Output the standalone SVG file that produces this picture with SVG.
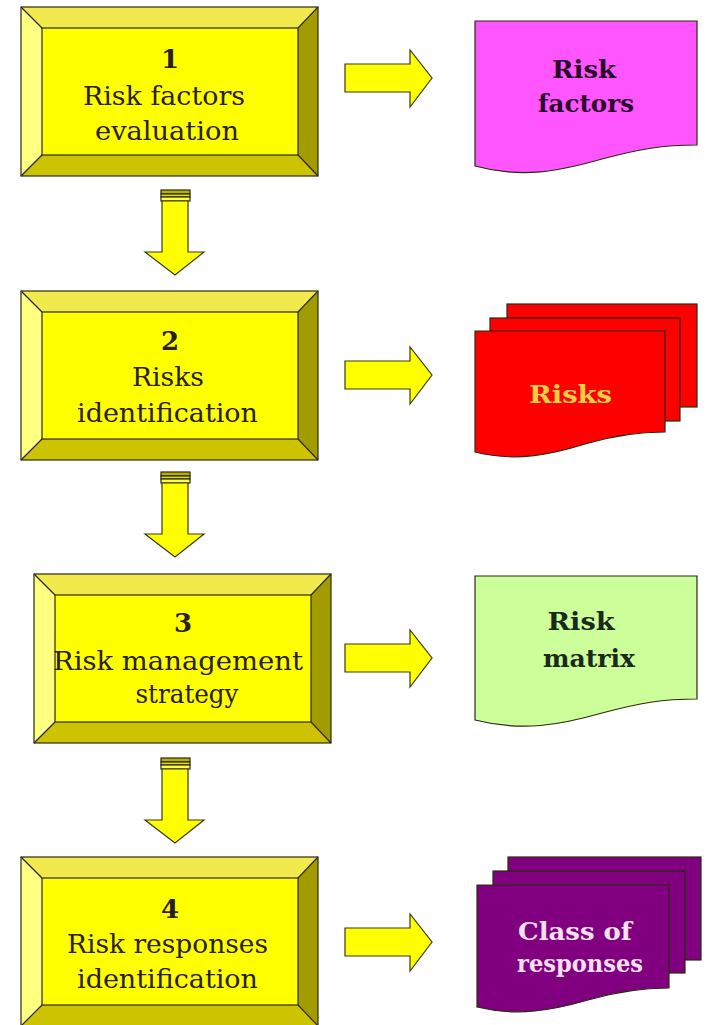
<svg xmlns="http://www.w3.org/2000/svg" width="706" height="1025" viewBox="0 0 706 1025">
  <style>
    .edge { stroke: #2a2a10; stroke-width: 1.2; stroke-linejoin: miter; }
    .face { fill: #FFFF00; }
    .bev-t { fill: #F2EA4C; }
    .bev-l { fill: #FFFF80; }
    .bev-r { fill: #A39C00; }
    .bev-b { fill: #CEC300; }
    .lbl { font-family: "DejaVu Serif", "Liberation Serif", serif; font-size: 25.5px; fill: #2a2010; text-anchor: middle; }
    .num { font-weight: bold; font-size: 26px; }
    .doc { font-family: "DejaVu Serif", "Liberation Serif", serif; font-size: 23.5px; font-weight: bold; text-anchor: middle; }
    .arrow { fill: #FFFF00; stroke: #3a3a10; stroke-width: 1.2; stroke-linejoin: miter; }
  </style>
  <defs>
    <!-- bevelled step box, 297 x 169 outer, 21 px bevel -->
    <g id="bevelBox">
      <polygon class="bev-t" points="0,0 297,0 277,21 21,21"/>
      <polygon class="bev-l" points="0,0 21,21 21,148 0,169"/>
      <polygon class="bev-r" points="297,0 297,169 277,148 277,21"/>
      <polygon class="bev-b" points="0,169 21,148 277,148 297,169"/>
      <rect class="face edge" x="21" y="21" width="256" height="127"/>
      <rect x="0" y="0" width="297" height="169" fill="none" class="edge"/>
      <line class="edge" x1="0" y1="0" x2="21" y2="21"/>
      <line class="edge" x1="297" y1="0" x2="277" y2="21"/>
      <line class="edge" x1="0" y1="169" x2="21" y2="148"/>
      <line class="edge" x1="297" y1="169" x2="277" y2="148"/>
    </g>
    <!-- striped-tail down arrow -->
    <g id="downArrow">
      <rect x="161" y="0" width="29" height="4" fill="#B8B000" class="edge"/>
      <rect x="161" y="4" width="29" height="3" fill="#E2DA30" class="edge"/>
      <rect x="161" y="7" width="29" height="4" fill="#FFFF40" class="edge"/>
      <polygon class="arrow" points="162,11 188,11 188,62 204,62 175,85 145,62 162,62"/>
    </g>
    <!-- block arrow pointing right -->
    <polygon id="rightArrow" class="arrow" points="0,14 65,14 65,0 87,28 65,57 65,42 0,42"/>
  </defs>

  <!-- connectors -->
  <g id="connectors">
    <use href="#downArrow" y="190"/>
    <use href="#downArrow" y="472"/>
    <use href="#downArrow" y="758"/>
    <use href="#rightArrow" x="345" y="50"/>
    <use href="#rightArrow" x="345" y="347"/>
    <use href="#rightArrow" x="345" y="630"/>
    <use href="#rightArrow" x="345" y="914"/>
  </g>

  <!-- process steps -->
  <g id="step1">
    <use href="#bevelBox" x="21" y="7"/>
    <text class="lbl num" x="170" y="68">1</text>
    <text class="lbl" x="164" y="105" textLength="162" lengthAdjust="spacingAndGlyphs">Risk factors</text>
    <text class="lbl" x="167" y="140" textLength="144" lengthAdjust="spacingAndGlyphs">evaluation</text>
  </g>
  <g id="step2">
    <use href="#bevelBox" x="21" y="291"/>
    <text class="lbl num" x="170" y="350">2</text>
    <text class="lbl" x="168" y="386" textLength="72" lengthAdjust="spacingAndGlyphs">Risks</text>
    <text class="lbl" x="167.5" y="422" textLength="181" lengthAdjust="spacingAndGlyphs">identification</text>
  </g>
  <g id="step3">
    <use href="#bevelBox" x="34" y="574"/>
    <text class="lbl num" x="183" y="632">3</text>
    <text class="lbl" x="178" y="670" textLength="250" lengthAdjust="spacingAndGlyphs">Risk management</text>
    <text class="lbl" x="187" y="703" textLength="103" lengthAdjust="spacingAndGlyphs">strategy</text>
  </g>
  <g id="step4">
    <use href="#bevelBox" x="21" y="857"/>
    <text class="lbl num" x="170" y="918">4</text>
    <text class="lbl" x="167.5" y="953" textLength="201" lengthAdjust="spacingAndGlyphs">Risk responses</text>
    <text class="lbl" x="167.5" y="988" textLength="181" lengthAdjust="spacingAndGlyphs">identification</text>
  </g>

  <!-- output documents -->
  <g id="doc-risk-factors">
    <path class="edge" fill="#FF55FF" d="M475,21 H697 V145 C662,145 640,149 602,159 C560,171 522,179 475,166 Z"/>
    <text class="doc" x="584" y="78" fill="#2a0a2a" textLength="64" lengthAdjust="spacingAndGlyphs">Risk</text>
    <text class="doc" x="586" y="112" fill="#2a0a2a" textLength="96" lengthAdjust="spacingAndGlyphs">factors</text>
  </g>
  <g id="doc-risks">
    <rect class="edge" fill="#FF0000" x="507" y="304" width="190" height="103"/>
    <rect class="edge" fill="#FF0000" x="490" y="318" width="190" height="103"/>
    <path class="edge" fill="#FF0000" d="M475,331 H665 V432 C635,432 612,436 585,444 C550,455 515,462 475,452 Z"/>
    <text class="doc" x="570.5" y="403" fill="#F2D040" textLength="83" lengthAdjust="spacingAndGlyphs">Risks</text>
  </g>
  <g id="doc-risk-matrix">
    <path class="edge" fill="#CCFF99" d="M475,576 H697 V699 C662,699 640,703 602,713 C560,725 522,732 475,720 Z"/>
    <text class="doc" x="581" y="630" fill="#1a2a1a" textLength="67" lengthAdjust="spacingAndGlyphs">Risk</text>
    <text class="doc" x="589" y="667" fill="#1a2a1a" textLength="92" lengthAdjust="spacingAndGlyphs">matrix</text>
  </g>
  <g id="doc-class-of-responses">
    <rect class="edge" fill="#800080" x="508" y="857" width="193" height="103"/>
    <rect class="edge" fill="#800080" x="493" y="871" width="192" height="102"/>
    <path class="edge" fill="#800080" d="M477,885 H669 V988 C640,988 616,992 588,1000 C553,1010 518,1017 477,1007 Z"/>
    <text class="doc" x="575" y="940" fill="#F5E0F0" textLength="114" lengthAdjust="spacingAndGlyphs">Class of</text>
    <text class="doc" x="580" y="972" fill="#F5E0F0" textLength="126" lengthAdjust="spacingAndGlyphs">responses</text>
  </g>
</svg>
